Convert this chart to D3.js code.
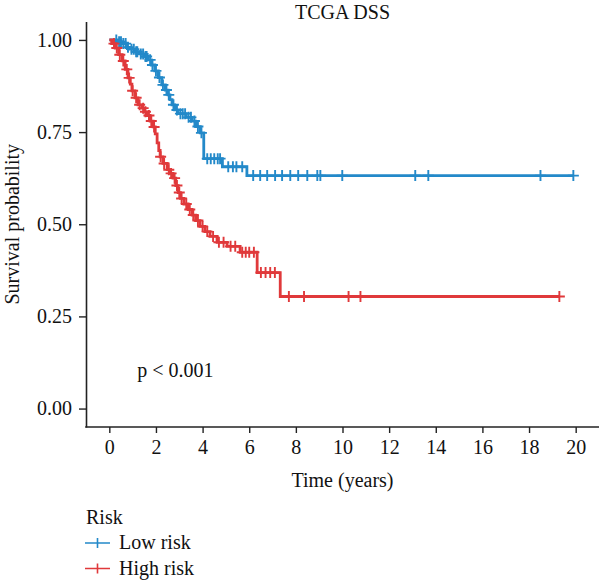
<!DOCTYPE html>
<html>
<head>
    <meta charset="utf-8">
    <title>TCGA DSS</title>
    <script type="text/javascript" src="https://cdn.jsdelivr.net/npm/d3@7"></script>
    <style>
        body { margin: 0; background: #fff; }
        text { font-family: "Liberation Serif", "DejaVu Serif", serif; fill: #111; }
    </style>
</head>
<body>
<script type="text/javascript">
    // Kaplan-Meier steps (time in years, survival probability)
    var lowTimes = [0, 0.35, 0.55, 0.75, 0.9, 1.1, 1.3, 1.5, 1.65, 1.8, 1.95, 2.1, 2.25, 2.4, 2.52, 2.6, 2.69, 2.8, 2.95, 3.3, 3.55, 3.7, 3.9, 4.05, 4.85, 5.9];
    var lowSurv  = [1.0, 0.995, 0.99, 0.98, 0.975, 0.968, 0.962, 0.955, 0.946, 0.932, 0.916, 0.898, 0.878, 0.864, 0.851, 0.838, 0.824, 0.81, 0.8, 0.79, 0.78, 0.765, 0.748, 0.678, 0.656, 0.632];
    var lowCensor = [0.3, 0.42, 0.5, 0.6, 0.7, 0.8, 0.95, 1.05, 1.15, 1.2, 1.35, 1.45, 1.55, 1.6, 1.75, 1.85, 2.0, 2.15, 2.3, 2.45, 2.55, 2.75, 2.9, 3.05, 3.15, 3.25, 3.4, 3.5, 3.65, 3.8, 3.95,
                     4.2, 4.35, 4.5, 4.65, 4.75, 5.1, 5.3, 5.45, 5.7,
                     6.17, 6.47, 6.77, 7.11, 7.41, 7.76, 8.1, 8.49, 8.92, 9.05, 9.99, 13.12, 13.68, 18.49, 19.9];

    var highTimes = [0, 0.1, 0.25, 0.4, 0.55, 0.68, 0.8, 0.9, 0.97, 1.1, 1.23, 1.4, 1.5, 1.62, 1.75, 1.88, 1.97, 2.05, 2.12, 2.18, 2.3, 2.48, 2.6, 2.73, 2.85, 2.95, 3.05, 3.2, 3.38, 3.55, 3.7, 3.89, 4.1, 4.32, 4.62, 5.05, 5.61, 6.34, 7.33];
    var highSurv  = [1.0, 0.99, 0.978, 0.96, 0.943, 0.92, 0.897, 0.88, 0.862, 0.843, 0.824, 0.815, 0.805, 0.795, 0.78, 0.764, 0.745, 0.721, 0.7, 0.683, 0.665, 0.648, 0.638, 0.625, 0.605, 0.586, 0.57, 0.555, 0.54, 0.525, 0.51, 0.494, 0.48, 0.467, 0.451, 0.44, 0.424, 0.369, 0.304];
    var highCensor = [0.2, 0.32, 0.45, 0.6, 0.75, 0.85, 1.0, 1.15, 1.3, 1.45, 1.55, 1.7, 1.8, 1.92, 2.2, 2.35, 2.55, 2.65, 2.8, 2.9, 3.0, 3.1, 3.3, 3.45, 3.6, 3.8, 4.0, 4.2, 4.45, 4.7, 4.9,
                      5.2, 5.4, 5.7, 5.85, 6.0, 6.2, 6.5, 6.7, 6.9, 7.1, 7.7, 8.35, 10.26, 10.77, 19.3];

    var xTicks = [0, 2, 4, 6, 8, 10, 12, 14, 16, 18, 20];
    var yTicks = [0, 0.25, 0.5, 0.75, 1];
    var groups = ["Low risk", "High risk"];
    var colors = ["#2389c9", "#e0393b"];

    var width = 600,
            height = 581,
            padLeft = 86, padRight = 599, padTop = 21.5, padBottom = 427,
            fontSize = 20;

    var x = d3.scaleLinear().domain([-1, 21]).range([padLeft, padRight]);
    var y = d3.scaleLinear().domain([-0.05, 1.05]).range([padBottom, padTop]);

    var svg = d3.select("body").append("svg")
            .attr("width", width)
            .attr("height", height);

    var curves = [
        {name: groups[0], times: lowTimes, surv: lowSurv, censor: lowCensor, color: colors[0]},
        {name: groups[1], times: highTimes, surv: highSurv, censor: highCensor, color: colors[1]}
    ];

    function survAt(c, t) {
        var i = d3.bisectRight(c.times, t) - 1;
        return c.surv[Math.max(i, 0)];
    }

    var line = d3.line()
            .x(function (d) { return x(d[0]); })
            .y(function (d) { return y(d[1]); })
            .curve(d3.curveStepAfter);

    // axes
    var xAxis = svg.append("g")
            .attr("transform", "translate(0," + padBottom + ")")
            .call(d3.axisBottom(x).tickValues(xTicks).tickSize(6).tickPadding(7).tickSizeOuter(0));
    var yAxis = svg.append("g")
            .attr("transform", "translate(" + padLeft + ",0)")
            .call(d3.axisLeft(y).tickValues(yTicks).tickFormat(d3.format(".2f")).tickSize(7).tickPadding(7).tickSizeOuter(0));

    [xAxis, yAxis].forEach(function (a) {
        a.select(".domain").attr("stroke", "#222").attr("stroke-width", 1.6);
        a.selectAll(".tick line").attr("stroke", "#222").attr("stroke-width", 1.4);
        a.selectAll(".tick text").attr("font-size", fontSize).attr("font-family", "Liberation Serif").attr("fill", "#111");
    });
    // extend the x axis line to meet the y axis at the corner
    xAxis.select(".domain").attr("d", "M" + (padLeft - 0.8) + ",0H" + padRight);

    curves.forEach(function (c) {
        var pts = c.times.map(function (t, i) { return [t, c.surv[i]]; });
        var tEnd = d3.max(c.censor);
        pts.push([tEnd, c.surv[c.surv.length - 1]]);

        var g = svg.append("g");
        g.append("path")
                .attr("d", line(pts))
                .attr("fill", "none")
                .attr("stroke", c.color)
                .attr("stroke-width", 2.8);

        g.selectAll("path.cens")
                .data(c.censor)
                .enter()
                .append("path")
                .attr("class", "cens")
                .attr("d", function (t) {
                    var px = x(t), py = y(survAt(c, t));
                    return "M" + (px - 5.5) + "," + py + "H" + (px + 5.5) + "M" + px + "," + (py - 5.5) + "V" + (py + 5.5);
                })
                .attr("stroke", c.color)
                .attr("stroke-width", 1.9)
                .attr("fill", "none");
    });

    svg.append("text")
            .attr("x", (padLeft + padRight) / 2)
            .attr("y", 19)
            .attr("text-anchor", "middle")
            .attr("font-size", fontSize)
            .text("TCGA DSS");

    svg.append("text")
            .attr("x", (padLeft + padRight) / 2)
            .attr("y", 487)
            .attr("text-anchor", "middle")
            .attr("font-size", fontSize)
            .text("Time (years)");

    svg.append("text")
            .attr("transform", "translate(19," + ((padTop + padBottom) / 2) + ") rotate(-90)")
            .attr("text-anchor", "middle")
            .attr("font-size", fontSize)
            .text("Survival probability");

    svg.append("text")
            .attr("x", x(1.2))
            .attr("y", 377)
            .attr("font-size", fontSize)
            .text("p < 0.001");

    // legend
    var legend = svg.append("g");
    legend.append("text")
            .attr("x", 86)
            .attr("y", 524)
            .attr("font-size", fontSize)
            .text("Risk");

    var item = legend.selectAll("g.item")
            .data(curves)
            .enter()
            .append("g")
            .attr("class", "item")
            .attr("transform", function (d, i) { return "translate(0," + (543 + i * 25.5) + ")"; });
    item.append("path")
            .attr("d", "M85,0H110M97.5,-5V5")
            .attr("stroke", function (d) { return d.color; })
            .attr("stroke-width", 1.6)
            .attr("fill", "none");
    item.append("text")
            .attr("x", 119)
            .attr("y", 6)
            .attr("font-size", fontSize)
            .text(function (d) { return d.name; });
</script>
</body>
</html>
